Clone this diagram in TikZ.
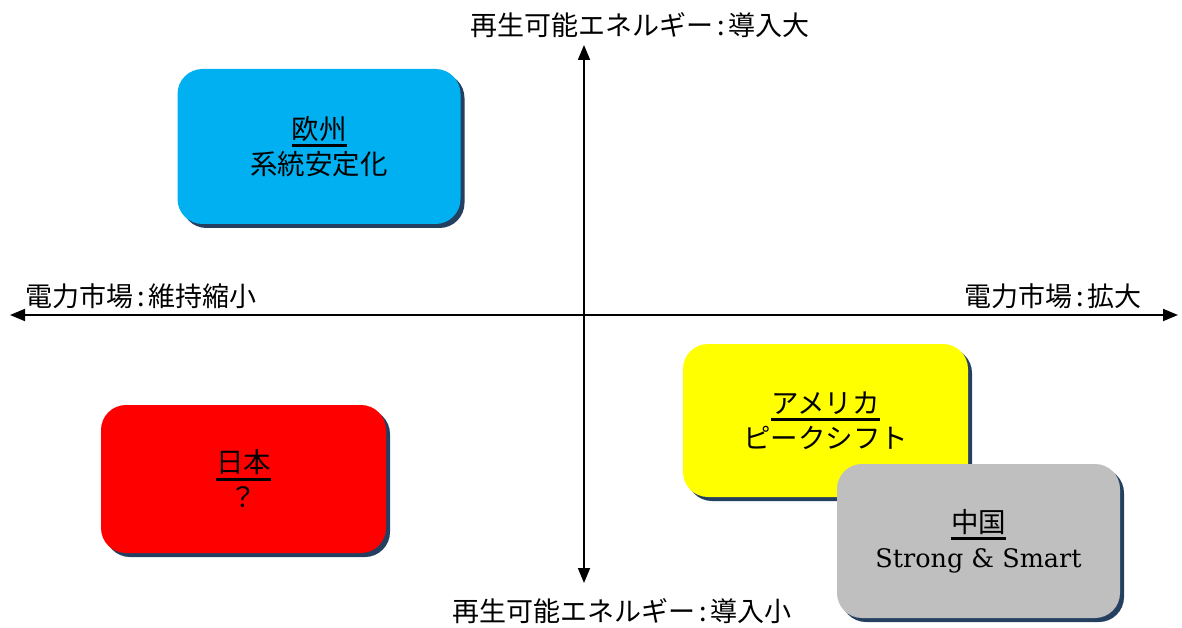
\documentclass[tikz,border=0pt]{standalone}
\usepackage{fontspec}
\setmainfont{DejaVu Serif}
\newfontfamily\jp{Noto Sans CJK JP}
\usetikzlibrary{arrows.meta,shadows}
\definecolor{euro}{HTML}{00B0F0}
\definecolor{japan}{HTML}{FF0000}
\definecolor{usa}{HTML}{FFFF00}
\definecolor{china}{HTML}{BFBFBF}
\definecolor{shade}{HTML}{243F60}
\newcommand\myul[1]{\setbox0\hbox{#1}\rlap{\vrule height -5pt depth 8pt width \wd0}\box0}
\newcommand\cln{\hspace{4pt}:\hspace{4pt}}
\tikzset{
  region/.style={rounded corners=25pt, minimum width=283pt, align=center,
    font=\jp\fontsize{27.5}{35}\selectfont, text=black,
    drop shadow={shadow xshift=4pt, shadow yshift=-4pt, fill=shade, opacity=1}},
  axislabel/.style={font=\jp\fontsize{27}{30}\selectfont, inner sep=0pt},
  axis/.style={line width=1.8pt, {Triangle[length=15pt,width=12pt]}-{Triangle[length=15pt,width=12pt]}}
}
\begin{document}
\begin{tikzpicture}[x=1pt,y=-1pt]
\useasboundingbox (0,0) rectangle (1182,628);
\coordinate (L) at (10,315);
\coordinate (R) at (1178,315);
\coordinate (T) at (584,45);
\coordinate (B) at (584,583);
\draw[axis] (L) -- (R);
\draw[axis] (B) -- (T);
\node[axislabel] (tl) at (640,25) {再生可能エネルギー\cln 導入大};
\node[axislabel] (bl) at (622,611) {再生可能エネルギー\cln 導入小};
\node[axislabel, anchor=west] (ll) at (25,296) {電力市場\cln 維持縮小};
\node[axislabel, anchor=east] (rl) at (1142,296) {電力市場\cln 拡大};
\node[region, fill=euro, minimum height=155pt] (eu) at (319,146.5) {\myul{欧州}\\系統安定化};
\node[region, fill=japan, minimum height=148pt, minimum width=285pt] (jp) at (243.5,479) {\myul{日本}\\？};
\node[region, fill=usa, minimum height=153pt, minimum width=285pt] (us) at (825.5,420.5) {\myul{アメリカ}\\ピークシフト};
\node[region, fill=china, minimum height=154pt] (cn) at (978.5,541) {\myul{中国}\\{\rmfamily\fontsize{25.5}{35}\selectfont Strong \& Smart}};
\end{tikzpicture}
\end{document}
